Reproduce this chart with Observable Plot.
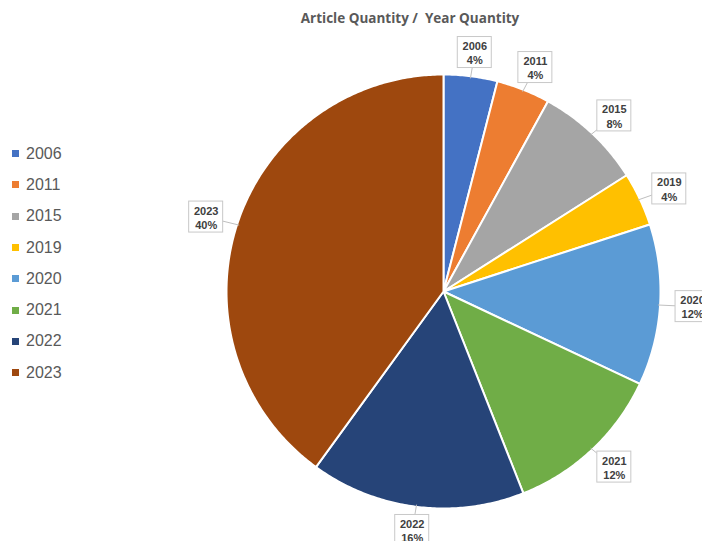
<!DOCTYPE html>
<html>
<head>
<meta charset="utf-8">
<script src="https://cdn.jsdelivr.net/npm/d3@7"></script>
<script src="https://cdn.jsdelivr.net/npm/@observablehq/plot@0.6"></script>
<style>
  body { margin: 0; background: #fff; }
  #wrap { position: relative; width: 702px; height: 541px; overflow: hidden; }
  #title { position: absolute; top: 9px; left: 0; width: 820px; text-align: center;
           font: bold 13.5px "Open Sans", sans-serif; color: #595959; white-space: pre; }
  #legend { position: absolute; left: 12px; top: 138px; font: 16px "Liberation Sans", Arial, sans-serif; color: #595959; }
  .li { height: 31.3px; display: flex; align-items: center; }
  .sw { width: 7px; height: 7px; margin-right: 7px; }
  #chart { position: absolute; left: 0; top: 0; }
</style>
</head>
<body>
<div id="wrap">
  <div id="chart"></div>
  <div id="title">Article Quantity /  Year Quantity</div>
  <div id="legend"></div>
</div>
<script>
// Data
const years = ["2006", "2011", "2015", "2019", "2020", "2021", "2022", "2023"];
const counts = [1, 1, 2, 1, 3, 3, 4, 10];
const colors = ["#4472C4", "#ED7D31", "#A5A5A5", "#FFC000", "#5B9BD5", "#70AD47", "#264478", "#9E480E"];

// Layout (pixels)
const W = 702, H = 541, CX = 443, CY = 291, R = 217;
const labelRx = 1.15, labelRy = 1.11, boxW = 34 / R, boxH = 31 / R;

const total = d3.sum(counts);
const pie = d3.pie().sort(null).value(d => d.count)(years.map((y, i) => ({year: y, count: counts[i]})));

// slice polygons in unit-circle coordinates (angle 0 = top, clockwise)
const pts = [];
for (const s of pie) {
  const n = Math.max(2, Math.ceil((s.endAngle - s.startAngle) / 0.01));
  pts.push({year: s.data.year, x: 0, y: 0});
  for (let k = 0; k <= n; k++) {
    const a = s.startAngle + (s.endAngle - s.startAngle) * k / n;
    pts.push({year: s.data.year, x: Math.sin(a), y: Math.cos(a)});
  }
  pts.push({year: s.data.year, x: 0, y: 0});
}

const labels = pie.map(s => {
  const a = (s.startAngle + s.endAngle) / 2;
  return {
    year: s.data.year,
    text: s.data.year + "\n" + Math.round(s.data.count / total * 100) + "%",
    x: Math.sin(a) * labelRx, y: Math.cos(a) * labelRy,
    ex: Math.sin(a) * 0.99, ey: Math.cos(a) * 0.99
  };
});

const plot = Plot.plot({
  width: W, height: H, margin: 0,
  x: {domain: [-CX / R, (W - CX) / R], axis: null},
  y: {domain: [-(H - CY) / R, CY / R], axis: null},
  color: {domain: years, range: colors},
  marks: [
    Plot.line(pts, {x: "x", y: "y", z: "year", fill: "year", stroke: "white", strokeWidth: 2, strokeLinejoin: "round", curve: "linear"}),
    Plot.link(labels, {x1: "x", y1: "y", x2: "ex", y2: "ey", stroke: "#bfbfbf", strokeWidth: 1}),
    Plot.rect(labels, {x1: d => d.x - boxW / 2, x2: d => d.x + boxW / 2, y1: d => d.y - boxH / 2, y2: d => d.y + boxH / 2, fill: "white", stroke: "#c8c8c8", strokeWidth: 1}),
    Plot.text(labels, {x: "x", y: "y", text: "text", fontFamily: "Liberation Sans, Arial, sans-serif", fontWeight: "bold", fontSize: 11, fill: "#404040", lineHeight: 1.3})
  ]
});
document.getElementById("chart").appendChild(plot);

const leg = document.getElementById("legend");
years.forEach((y, i) => {
  const row = document.createElement("div");
  row.className = "li";
  row.innerHTML = `<span class="sw" style="background:${colors[i]}"></span><span>${y}</span>`;
  leg.appendChild(row);
});
</script>
</body>
</html>
